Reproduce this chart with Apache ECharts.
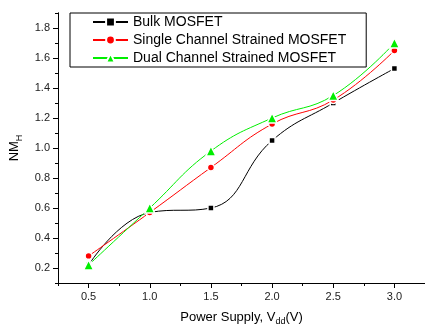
<!DOCTYPE html>
<html>
<head>
<meta charset="utf-8">
<script src="https://cdn.jsdelivr.net/npm/echarts@6/dist/echarts.min.js"></script>
<style>
  html, body { margin: 0; padding: 0; background: #fff; }
  #chart { width: 425px; height: 324px; }
</style>
</head>
<body>
<div id="chart"></div>
<script>
// supply voltage (V)
const vdd = [0.5, 1.0, 1.5, 2.0, 2.5, 3.0]
// NM_H per device type
const bulk = [0.22, 0.57, 0.60, 1.05, 1.30, 1.53]
const singleCh = [0.28, 0.57, 0.87, 1.16, 1.32, 1.65]
const dualCh = [0.22, 0.60, 0.98, 1.20, 1.35, 1.70]
// tick labels
const xLabels = [0.5, 1.0, 1.5, 2.0, 2.5, 3.0]
const yLabels = [0.2, 0.4, 0.6, 0.8, 1.0, 1.2, 1.4, 1.6, 1.8]

const font = 'Liberation Sans, Arial, sans-serif'
const chart = echarts.init(document.getElementById('chart'))

function pairs (ys) {
  return vdd.map((x, i) => [x, ys[i]])
}

function lineSeries (name, ys, color, symbol, size) {
  return {
    name: name,
    type: 'line',
    data: pairs(ys),
    smooth: 0.45,
    symbol: symbol,
    symbolSize: size,
    lineStyle: { color: color, width: 1 },
    itemStyle: { color: color, borderColor: '#fff', borderWidth: 1.5 },
    emphasis: { disabled: true }
  }
}

const axisBase = {
  axisLine: { show: true, lineStyle: { color: '#000', width: 1 } },
  splitLine: { show: false }
}

chart.setOption({
  animation: false,
  grid: { left: 58, right: 0, top: 13, bottom: 41, outerBoundsMode: 'none', containLabel: false },
  legend: {
    left: 70,
    top: 13,
    orient: 'vertical',
    padding: [2, 20, 2, 22],
    itemWidth: 35,
    itemHeight: 11,
    itemGap: 4,
    borderColor: '#000',
    borderWidth: 1,
    textStyle: { fontFamily: font, fontSize: 14, color: '#000' },
    data: ['Bulk MOSFET', 'Single Channel Strained MOSFET', 'Dual Channel Strained MOSFET']
  },
  xAxis: [
    Object.assign({}, axisBase, {
      type: 'value',
      min: 0.25,
      max: 3.25,
      interval: 0.25,
      axisTick: { show: true, inside: false, length: 5, customValues: xLabels, lineStyle: { color: '#000' } },
      axisLabel: {
        customValues: xLabels,
        margin: 8,
        fontFamily: font,
        fontSize: 11,
        color: '#222',
        formatter: v => v.toFixed(1)
      },
      name: 'Power Supply, V{sub|dd}(V)',
      nameLocation: 'middle',
      nameGap: 25,
      nameTextStyle: {
        fontFamily: font,
        fontSize: 13,
        color: '#000',
        rich: { sub: { fontFamily: font, fontSize: 9, color: '#000', padding: [9, 0, 0, 0] } }
      }
    }),
    Object.assign({}, axisBase, {
      type: 'value',
      min: 0.25,
      max: 3.25,
      interval: 0.25,
      position: 'bottom',
      axisTick: { show: true, length: 3, lineStyle: { color: '#000' } },
      axisLabel: { show: false }
    })
  ],
  yAxis: [
    Object.assign({}, axisBase, {
      type: 'value',
      min: 0.1,
      max: 1.9,
      interval: 0.1,
      axisTick: { show: true, length: 5, customValues: yLabels, lineStyle: { color: '#000' } },
      axisLabel: {
        customValues: yLabels,
        margin: 8,
        fontFamily: font,
        fontSize: 11,
        color: '#222',
        formatter: v => v.toFixed(1)
      },
      name: 'NM{sub|H}',
      nameLocation: 'middle',
      nameGap: 33,
      nameRotate: 90,
      nameTextStyle: {
        fontFamily: font,
        fontSize: 13,
        color: '#000',
        rich: { sub: { fontFamily: font, fontSize: 9, color: '#000', padding: [9, 0, 0, 0] } }
      }
    }),
    Object.assign({}, axisBase, {
      type: 'value',
      min: 0.1,
      max: 1.9,
      interval: 0.1,
      position: 'left',
      axisTick: { show: true, length: 3, lineStyle: { color: '#000' } },
      axisLabel: { show: false }
    })
  ],
  series: [
    lineSeries('Bulk MOSFET', bulk, '#000000', 'rect', 6),
    lineSeries('Single Channel Strained MOSFET', singleCh, '#ff0000', 'circle', 7),
    lineSeries('Dual Channel Strained MOSFET', dualCh, '#00ee00', 'triangle', 10)
  ]
})
</script>
</body>
</html>
